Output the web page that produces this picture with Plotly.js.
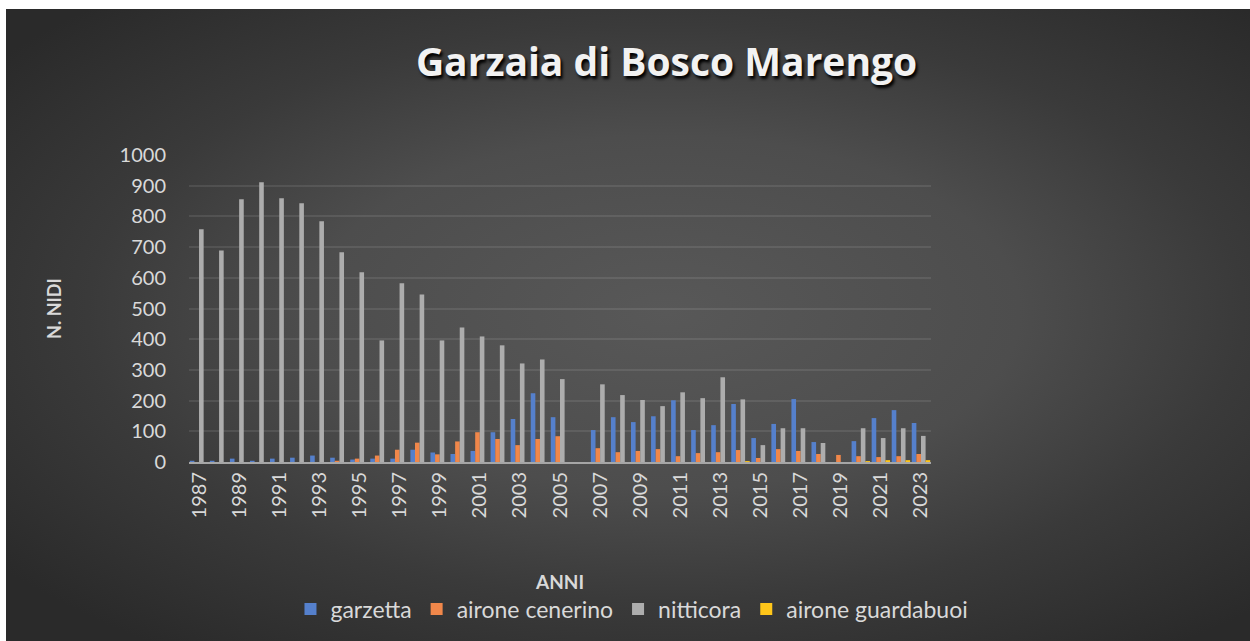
<!DOCTYPE html>
<html>
<head>
<meta charset="utf-8">
<script src="https://cdn.plot.ly/plotly-3.0.1.min.js"></script>
<style>
  html, body { margin: 0; padding: 0; background: #ffffff; width: 1250px; height: 641px; overflow: hidden; }
  #frame {
    position: absolute; left: 6px; top: 9px; width: 1244px; height: 632px;
    background: radial-gradient(ellipse farthest-corner at 53% 48%, #585858 0%, #4d4d4d 38%, #3a3a3a 62%, #2a2a2a 90%);
  }
  #chart { width: 1244px; height: 632px; }
</style>
</head>
<body>
<div id="frame"><div id="chart"></div></div>
<script>
const years = ['1987','1988','1989','1990','1991','1992','1993','1994','1995','1996','1997','1998','1999','2000','2001','2002','2003','2004','2005','2006','2007','2008','2009','2010','2011','2012','2013','2014','2015','2016','2017','2018','2019','2020','2021','2022','2023'];
const garzetta = [4,4,11,4,11,14,21,14,8,11,11,40,31,26,36,97,140,224,146,0,104,146,130,149,201,104,120,189,78,124,205,65,0,68,143,169,127];
const aironeCenerino = [0,0,0,0,0,0,0,4,11,21,40,63,25,67,97,75,55,75,84,0,45,32,36,42,19,29,32,39,13,42,36,26,23,19,16,19,26];
const nitticora = [758,689,856,911,859,843,784,683,618,396,582,546,396,438,409,380,321,334,270,0,253,218,202,182,227,208,276,204,55,110,110,62,0,110,78,110,85];
const aironeGuardabuoi = [0,0,0,0,0,0,0,0,0,0,0,0,0,0,0,0,0,0,0,0,0,0,0,0,0,0,0,3,0,0,0,0,0,3,6,6,6];
const tickYears = ['1987','1989','1991','1993','1995','1997','1999','2001','2003','2005','2007','2009','2011','2013','2015','2017','2019','2021','2023'];

const seriesNames = ['garzetta','airone cenerino','nitticora','airone guardabuoi'];
const seriesData = [garzetta, aironeCenerino, nitticora, aironeGuardabuoi];
const seriesColors = ['#5580cc','#f0874a','#adadad','#ffc61a'];

const traces = seriesNames.map((n, i) => ({
  type: 'bar', name: n, x: years, y: seriesData[i],
  marker: { color: seriesColors[i], line: { width: 0 } },
  hoverinfo: 'x+y+name'
}));

const txt = '#d9d9d9';
const layout = {
  width: 1244, height: 632,
  paper_bgcolor: 'rgba(0,0,0,0)', plot_bgcolor: 'rgba(0,0,0,0)',
  margin: { l: 183, r: 319, t: 146, b: 178, pad: 0 },
  barmode: 'group', bargap: 0.08, bargroupgap: 0,
  font: { family: 'Lato, "Open Sans", sans-serif', color: txt },
  title: {
    text: 'Garzaia di Bosco Marengo',
    font: { family: '"Open Sans", sans-serif', size: 39, weight: 700, color: '#f2f2f2', shadow: '2px 3px 3px #000000' },
    x: 0.531, xanchor: 'center', xref: 'container',
    y: 0.916, yanchor: 'middle', yref: 'container'
  },
  xaxis: {
    type: 'category', tickmode: 'array', tickvals: tickYears, ticktext: tickYears,
    tickangle: -90, tickfont: { size: 20, color: txt }, ticks: '',
    showgrid: false, showline: true, linecolor: '#a6a6a6', linewidth: 2,
    automargin: false,
    title: { text: 'ANNI', font: { size: 19, weight: 700, color: txt }, standoff: 58 }
  },
  yaxis: {
    range: [0, 1000], dtick: 100, tickfont: { size: 20, color: txt }, ticks: '',
    showgrid: true, gridcolor: 'rgba(255,255,255,0.09)', gridwidth: 2,
    zeroline: false, showline: false, automargin: false, ticklabelstandoff: 22,
    title: { text: 'N. NIDI', font: { size: 18, weight: 700, color: txt }, standoff: 53 }
  },
  showlegend: true,
  legend: {
    orientation: 'h', x: 0.597, xanchor: 'center', y: -0.474, yanchor: 'middle',
    font: { size: 23, color: txt }, bgcolor: 'rgba(0,0,0,0)', itemwidth: 30,
    traceorder: 'normal'
  }
};

Plotly.newPlot('chart', traces, layout, { displayModeBar: false, staticPlot: true });
</script>
</body>
</html>
